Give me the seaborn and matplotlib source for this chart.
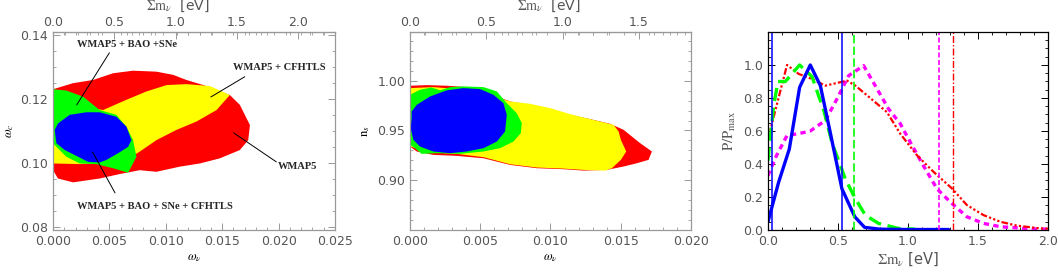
import numpy as np
import matplotlib
matplotlib.use("Agg")
import matplotlib.pyplot as plt
from matplotlib.ticker import MultipleLocator
import seaborn as sns

# --------------------------
# Dados: painel 1 (omega_nu x omega_c), contornos
# --------------------------
p1_red_x = [0, 0.00178, 0.00355, 0.00533, 0.00710, 0.00917, 0.01065, 0.01183, 0.01361, 0.01568,
            0.01657, 0.01746, 0.01731, 0.01657, 0.01479, 0.01302, 0.01124, 0.00917, 0.00769,
            0.00592, 0.00414, 0.00178, 0.00044, 0]
p1_red_y = [0.1230, 0.1249, 0.1259, 0.1280, 0.1288, 0.1285, 0.1275, 0.1259, 0.1240, 0.1212,
            0.1181, 0.1118, 0.1071, 0.1040, 0.1014, 0.0998, 0.0988, 0.0972, 0.0977,
            0.0965, 0.0951, 0.0939, 0.0951, 0.0977]
p1_yel_x = [0, 0.00266, 0.00444, 0.00651, 0.00828, 0.01006, 0.01183, 0.01391, 0.01568, 0.01450,
            0.01272, 0.01095, 0.00917, 0.00769, 0.00651, 0.00414, 0.00237, 0]
p1_yel_y = [0.1197, 0.1176, 0.1165, 0.1197, 0.1223, 0.1243, 0.1246, 0.1240, 0.1212, 0.1165,
            0.1129, 0.1103, 0.1071, 0.1035, 0.1009, 0.0998, 0.0996, 0.0998]
p1_grn_x = [0, 0.00118, 0.00266, 0.00414, 0.00562, 0.00651, 0.00710, 0.00740, 0.00666, 0.00533,
            0.00385, 0.00237, 0.00118, 0]
p1_grn_y = [0.1230, 0.1226, 0.1207, 0.1165, 0.1150, 0.1113, 0.1071, 0.1019, 0.0969, 0.0983,
            0.0996, 0.0998, 0.1019, 0.1061]
p1_blu_x = [0.00015, 0.00044, 0.00148, 0.00296, 0.00414, 0.00562, 0.00651, 0.00695, 0.00666,
            0.00577, 0.00473, 0.00414, 0.00311, 0.00222, 0.00104, 0.00030]
p1_blu_y = [0.1103, 0.1123, 0.1150, 0.1158, 0.1158, 0.1144, 0.1113, 0.1071, 0.1050,
            0.1030, 0.1009, 0.1001, 0.1003, 0.1019, 0.1040, 0.1061]

# --------------------------
# Dados: painel 2 (omega_nu x n_s), contornos
# --------------------------
p2_red_x = [0, 0.00119, 0.00261, 0.00404, 0.00523, 0.00618, 0.00713, 0.00855, 0.00998, 0.01140,
            0.01283, 0.01425, 0.01520, 0.01639, 0.01722, 0.01698, 0.01615, 0.01520, 0.01401,
            0.01235, 0.01093, 0.00903, 0.00713, 0.00523, 0.00333, 0.00166, 0.00048, 0]
p2_red_y = [0.9950, 0.9956, 0.9950, 0.9936, 0.9916, 0.9842, 0.9792, 0.9758, 0.9708, 0.9658,
            0.9614, 0.9567, 0.9507, 0.9372, 0.9289, 0.9205, 0.9171, 0.9138, 0.9104,
            0.9097, 0.9111, 0.9121, 0.9154, 0.9221, 0.9245, 0.9255, 0.9289, 0.9339]
p2_yel_x = [0, 0.00166, 0.00404, 0.00594, 0.00713, 0.00855, 0.00998, 0.01140, 0.01283, 0.01449,
            0.01485, 0.01501, 0.01539, 0.01501, 0.01437, 0.01390, 0.01235, 0.01093, 0.00903,
            0.00713, 0.00523, 0.00333, 0.00166, 0]
p2_yel_y = [0.9926, 0.9936, 0.9909, 0.9842, 0.9792, 0.9768, 0.9725, 0.9664, 0.9614, 0.9557,
            0.9490, 0.9406, 0.9289, 0.9205, 0.9121, 0.9097, 0.9104, 0.9117, 0.9128,
            0.9161, 0.9232, 0.9265, 0.9279, 0.9339]
p2_grn_x = [0, 0.00071, 0.00154, 0.00214, 0.00285, 0.00380, 0.00523, 0.00618, 0.00689, 0.00760,
            0.00796, 0.00789, 0.00736, 0.00641, 0.00523, 0.00356, 0.00190, 0.00083, 0.00036, 0]
p2_grn_y = [0.9859, 0.9909, 0.9933, 0.9903, 0.9936, 0.9943, 0.9936, 0.9893, 0.9775, 0.9674,
            0.9574, 0.9473, 0.9389, 0.9322, 0.9289, 0.9265, 0.9272, 0.9265, 0.9322, 0.9356]
p2_blu_x = [0.00012, 0.00048, 0.00143, 0.00261, 0.00380, 0.00499, 0.00594, 0.00665, 0.00689,
            0.00677, 0.00618, 0.00523, 0.00404, 0.00285, 0.00166, 0.00071, 0.00024, 0.00005, 0.00012]
p2_blu_y = [0.9691, 0.9758, 0.9842, 0.9903, 0.9926, 0.9916, 0.9859, 0.9775, 0.9658,
            0.9490, 0.9389, 0.9322, 0.9289, 0.9272, 0.9289, 0.9339, 0.9406, 0.9523, 0.9624]

# --------------------------
# Dados: painel 3 (P/Pmax x soma das massas)
# --------------------------
blu_m = [0.0, 0.076, 0.152, 0.226, 0.302, 0.374, 0.445, 0.528, 0.62, 0.69, 0.8, 1.0, 1.29]
blu_p = [0.05, 0.29, 0.49, 0.865, 1.0, 0.875, 0.59, 0.25, 0.08, 0.016, 0.005, 0.003, 0.003]
grn_m = [0.0, 0.04, 0.071, 0.124, 0.226, 0.314, 0.40, 0.457, 0.552, 0.624, 0.695, 0.79, 0.93, 1.05]
grn_p = [0.42, 0.75, 0.90, 0.90, 1.0, 0.93, 0.72, 0.53, 0.31, 0.19, 0.09, 0.04, 0.01, 0.005]
red_m = [0.0, 0.06, 0.136, 0.219, 0.314, 0.41, 0.564, 0.624, 0.695, 0.85, 0.945, 1.064, 1.183,
         1.314, 1.421, 1.54, 1.66, 1.78, 1.945, 2.0]
red_p = [0.55, 0.75, 1.0, 0.946, 0.915, 0.875, 0.905, 0.875, 0.825, 0.714, 0.583, 0.453, 0.352,
         0.252, 0.151, 0.09, 0.05, 0.026, 0.01, 0.008]
mag_m = [0.0, 0.06, 0.136, 0.219, 0.302, 0.41, 0.493, 0.576, 0.683, 0.766, 0.861, 0.945, 1.016,
         1.11, 1.207, 1.302, 1.421, 1.54, 1.66, 1.9, 2.0]
mag_p = [0.33, 0.45, 0.573, 0.584, 0.60, 0.664, 0.795, 0.935, 0.996, 0.875, 0.734, 0.644, 0.533,
         0.39, 0.25, 0.17, 0.08, 0.04, 0.02, 0.006, 0.005]
# limites (linhas verticais)
lim_blu = [0.029, 0.529]
lim_grn = 0.617
lim_mag = 1.219
lim_red = 1.319

# rotulos das regioes do painel 1: texto, posicao do texto, segmento da linha
rotulos = ["WMAP5 + BAO +SNe", "WMAP5 + CFHTLS", "WMAP5", "WMAP5 + BAO + SNe + CFHTLS"]
rot_x = [0.0021, 0.0160, 0.0199, 0.0021]
rot_y = [0.1369, 0.1297, 0.0988, 0.0862]
seg_x = [(0.0050, 0.0021), (0.0170, 0.0140), (0.0198, 0.0160), (0.0055, 0.0035)]
seg_y = [(0.1344, 0.1181), (0.1269, 0.1206), (0.1003, 0.1094), (0.0906, 0.1034)]

fator_massa = 92.0  # sum m_nu [eV] = fator * omega_nu

# --------------------------
# Estilo
# --------------------------
sns.set_style("ticks")
plt.rcParams["font.family"] = ["DejaVu Sans"]
plt.rcParams["mathtext.fontset"] = "stix"
plt.rcParams["xtick.direction"] = "in"
plt.rcParams["ytick.direction"] = "in"

CINZA = "#555555"
MOLDURA = "#999999"
VERM, AMAR, VERDE, AZUL, MAG = "#ff0000", "#ffff00", "#00ff00", "#0000ff", "#ff00ff"

fig = plt.figure(figsize=(10.58, 2.72), dpi=100)
ax1 = fig.add_axes([0.0501, 0.1544, 0.2665, 0.728])
ax2 = fig.add_axes([0.3875, 0.1544, 0.2656, 0.728])
ax3 = fig.add_axes([0.7259, 0.1544, 0.2646, 0.728])

TAM = 9


def estilo_eixo(ax, cor_moldura, cor_tick):
    for s in ax.spines.values():
        s.set_color(cor_moldura)
        s.set_linewidth(0.9)
    ax.tick_params(which="both", top=True, right=True, colors=cor_tick,
                   labelcolor=CINZA, labelsize=TAM)
    ax.tick_params(which="major", length=5, width=0.7)
    ax.tick_params(which="minor", length=2.5, width=0.6)


def eixo_superior(ax, maj, mnr, fmt):
    sec = ax.secondary_xaxis("top", functions=(lambda w: w * fator_massa,
                                               lambda m: m / fator_massa))
    sec.xaxis.set_major_locator(MultipleLocator(maj))
    sec.xaxis.set_minor_locator(MultipleLocator(mnr))
    sec.xaxis.set_major_formatter(plt.FuncFormatter(fmt))
    sec.tick_params(which="both", direction="in", colors=MOLDURA, labelcolor=CINZA,
                    labelsize=TAM, pad=2)
    sec.tick_params(which="major", length=5, width=0.7)
    sec.tick_params(which="minor", length=2.5, width=0.6)
    sec.spines["top"].set_color(MOLDURA)
    return sec


# --- Painel 1 ---
ax1.fill(p1_red_x, p1_red_y, color=VERM, lw=0)
ax1.fill(p1_yel_x, p1_yel_y, color=AMAR, lw=0)
ax1.fill(p1_grn_x, p1_grn_y, color=VERDE, lw=0)
ax1.fill(p1_blu_x, p1_blu_y, color=AZUL, lw=0)
for txt, tx, ty, sx, sy in zip(rotulos, rot_x, rot_y, seg_x, seg_y):
    ax1.text(tx, ty, txt, fontsize=7.6, fontweight="bold", family="Liberation Serif",
             ha="left", va="center")
    ax1.plot(sx, sy, color="k", lw=0.7)
ax1.set_xlim(0, 0.025)
ax1.set_ylim(0.079, 0.1409)
ax1.xaxis.set_major_locator(MultipleLocator(0.005))
ax1.xaxis.set_minor_locator(MultipleLocator(0.001))
ax1.yaxis.set_major_locator(MultipleLocator(0.02))
ax1.yaxis.set_minor_locator(MultipleLocator(0.005))
ax1.xaxis.set_major_formatter(plt.FuncFormatter(lambda v, p: f"{v:.3f}"))
ax1.yaxis.set_major_formatter(plt.FuncFormatter(lambda v, p: f"{v:.2f}"))
estilo_eixo(ax1, MOLDURA, MOLDURA)
ax1.tick_params(axis="x", top=False)
ax1.set_xlabel(r"$\omega_\nu$", fontsize=9, color="k", labelpad=2)
ax1.set_ylabel(r"$\omega_c$", fontsize=9, color="k", labelpad=3)
eixo_superior(ax1, 0.5, 0.1, lambda v, p: f"{v:.1f}")

# --- Painel 2 ---
ax2.fill(p2_red_x, p2_red_y, color=VERM, lw=0)
ax2.fill(p2_yel_x, p2_yel_y, color=AMAR, lw=0)
ax2.fill(p2_grn_x, p2_grn_y, color=VERDE, lw=0)
ax2.fill(p2_blu_x, p2_blu_y, color=AZUL, lw=0)
ax2.set_xlim(0, 0.020)
ax2.set_ylim(0.85, 1.049)
ax2.xaxis.set_major_locator(MultipleLocator(0.005))
ax2.xaxis.set_minor_locator(MultipleLocator(0.001))
ax2.yaxis.set_major_locator(MultipleLocator(0.05))
ax2.yaxis.set_minor_locator(MultipleLocator(0.01))
ax2.xaxis.set_major_formatter(plt.FuncFormatter(lambda v, p: f"{v:.3f}"))
ax2.yaxis.set_major_formatter(plt.FuncFormatter(lambda v, p: f"{v:.2f}" if 0.88 < v < 1.04 else ""))
estilo_eixo(ax2, MOLDURA, MOLDURA)
ax2.tick_params(axis="x", top=False)
ax2.set_xlabel(r"$\omega_\nu$", fontsize=9, color="k", labelpad=2)
ax2.set_ylabel(r"$\mathrm{n}_s$", fontsize=9, color="k", labelpad=4)
eixo_superior(ax2, 0.5, 0.1, lambda v, p: f"{v:.1f}" if v < 1.9 else "")

# rotulos do eixo superior
fig.text(178 / 1058, 1 - 6 / 272, r"$\Sigma\mathrm{m}_\nu$  [eV]", fontsize=10,
         color=CINZA, ha="center", va="center")
fig.text(549 / 1058, 1 - 6 / 272, r"$\Sigma\mathrm{m}_\nu$  [eV]", fontsize=10,
         color=CINZA, ha="center", va="center")

# --- Painel 3 ---
sns.lineplot(x=mag_m, y=mag_p, ax=ax3, color=MAG, lw=2.4, sort=False, dashes=False,
             linestyle=(0, (1.6, 1.3)))
sns.lineplot(x=red_m, y=red_p, ax=ax3, color=VERM, lw=1.6, sort=False, dashes=False,
             linestyle=(0, (3, 1, 1, 1, 1, 1, 1, 1)))
sns.lineplot(x=grn_m, y=grn_p, ax=ax3, color=VERDE, lw=2.4, sort=False, dashes=False,
             linestyle=(0, (4, 2)))
sns.lineplot(x=blu_m, y=blu_p, ax=ax3, color=AZUL, lw=2.4, sort=False)
for xv in lim_blu:
    ax3.axvline(xv, color=AZUL, lw=1.1)
ax3.axvline(lim_grn, color=VERDE, lw=1.2, ls=(0, (5, 2)))
ax3.axvline(lim_mag, color=MAG, lw=1.2, ls=(0, (3, 1.5)))
ax3.axvline(lim_red, color=VERM, lw=1.0, ls=(0, (5, 1.5, 1, 1.5)))
ax3.set_xlim(0, 2.0)
ax3.set_ylim(0, 1.2)
ax3.xaxis.set_major_locator(MultipleLocator(0.5))
ax3.xaxis.set_minor_locator(MultipleLocator(0.1))
ax3.yaxis.set_major_locator(MultipleLocator(0.2))
ax3.yaxis.set_minor_locator(MultipleLocator(0.05))
ax3.xaxis.set_major_formatter(plt.FuncFormatter(lambda v, p: f"{v:.1f}"))
ax3.yaxis.set_major_formatter(plt.FuncFormatter(lambda v, p: f"{v:.1f}" if v < 1.1 else ""))
estilo_eixo(ax3, "k", "k")
ax3.set_xlabel(r"$\Sigma\mathrm{m}_\nu$ [eV]", fontsize=10.5, color=CINZA, labelpad=2)
ax3.set_ylabel(r"$\mathrm{P/P_{max}}$", fontsize=10.5, color=CINZA, labelpad=4)

fig.savefig("out.png", dpi=100)
print("Salvo: out.png")
